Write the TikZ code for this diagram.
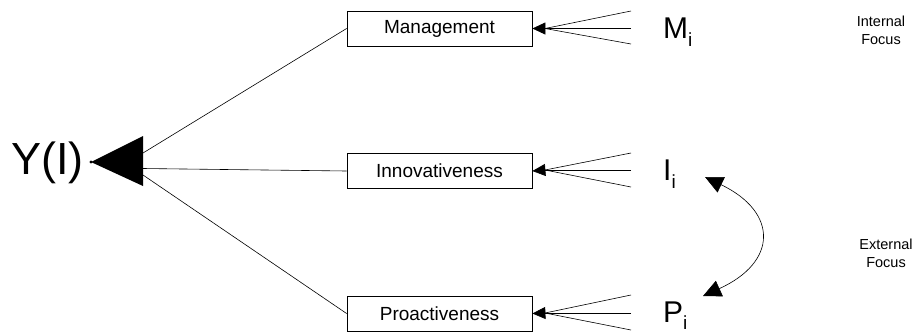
\documentclass[tikz,border=0pt]{standalone}
\usepackage{fontspec}
\setmainfont{Liberation Sans}
\usetikzlibrary{arrows.meta}
\begin{document}
\begin{tikzpicture}[x=1pt,y=-1pt,
  box/.style={draw,line width=0.8pt,minimum width=185pt,minimum height=35pt,inner sep=0pt,font=\fontsize{19}{19}\selectfont},
  conn/.style={line width=0.6pt},
  smallhead/.style={line width=0.6pt,-{Triangle[length=13pt,width=12pt]}},
  lbl/.style={anchor=base west,inner sep=0pt},
  focus/.style={align=center,inner sep=0pt,font=\fontsize{14.5}{18}\selectfont}]
\path[use as bounding box] (0,0) rectangle (921,333);
% outcome
\node[lbl,font=\fontsize{45}{45}\selectfont] (y) at (11,174) {Y(I)};
\fill (91,162) -- (143,136) -- (143,186) -- cycle;
\fill (91,162) circle (1.6pt);
\coordinate (tip) at (91,162);
\coordinate (ja) at (143,153);
\coordinate (jb) at (143,168.5);
\coordinate (jc) at (143,175);
% boxes
\node[box] (m) at (439.5,28.5) {Management};
\node[box] (i) at (439.5,171) {Innovativeness};
\node[box] (p) at (439.5,313.5) {Proactiveness};
\draw[conn] (m.west) -- (ja);
\draw[conn] (i.west) -- (jb);
\draw[conn] (p.west) -- (jc);
% inputs
\coordinate (mj) at (545,28.5);
\coordinate (m1) at (631,11);
\coordinate (m2) at (631,28.5);
\coordinate (m3) at (631,44);
\coordinate (ij) at (545,170);
\coordinate (i1) at (631,153);
\coordinate (i2) at (631,170);
\coordinate (i3) at (631,187);
\coordinate (pj) at (545,313);
\coordinate (p1) at (631,295);
\coordinate (p2) at (631,313);
\coordinate (p3) at (631,330);
\foreach \a in {m,i,p}{
  \draw[conn] (\a1) -- (\a j);
  \draw[conn] (\a2) -- (\a j);
  \draw[conn] (\a3) -- (\a j);
  \draw[smallhead] (\a j) -- (\a.east);
}
% labels
\node[lbl] (ml) at (663,38) {\fontsize{30}{30}\selectfont M\raisebox{-8pt}{\fontsize{19}{19}\selectfont i}};
\node[lbl] (il) at (663,180) {\fontsize{30}{30}\selectfont I\raisebox{-8pt}{\fontsize{19}{19}\selectfont i}};
\node[lbl] (pl) at (663,322) {\fontsize{30}{30}\selectfont P\raisebox{-7pt}{\fontsize{19}{19}\selectfont i}};
% curved double arrow
\coordinate (ca) at (705,177);
\coordinate (cb) at (703,296);
\draw[line width=0.6pt,{Triangle[length=18pt,width=17pt]}-{Triangle[length=18pt,width=17pt]}] (ca) .. controls (778,212) and (778,262) .. (cb);
% focus texts
\node[focus] (inf) at (881,30) {Internal\\Focus};
\node[focus] (exf) at (886,253) {External\\Focus};
\end{tikzpicture}
\end{document}
